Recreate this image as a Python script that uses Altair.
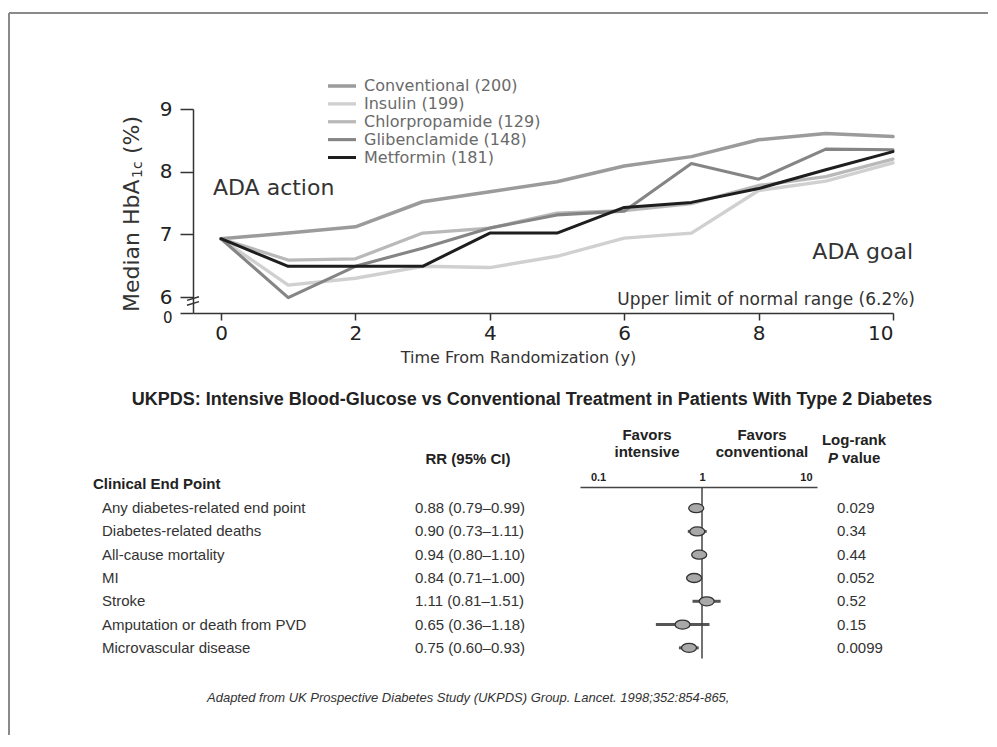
import altair as alt
import pandas as pd

# ---------------- data: HbA1c lines ----------------
years = list(range(11))
series_names = ["Conventional", "Insulin", "Chlorpropamide", "Glibenclamide", "Metformin"]
legend_labels = ["Conventional (200)", "Insulin (199)", "Chlorpropamide (129)",
                 "Glibenclamide (148)", "Metformin (181)"]
conventional = [6.93, 7.02, 7.12, 7.52, 7.68, 7.84, 8.09, 8.24, 8.51, 8.61, 8.56]
insulin = [6.93, 6.19, 6.30, 6.49, 6.47, 6.65, 6.94, 7.02, 7.70, 7.85, 8.14]
chlorpropamide = [6.93, 6.59, 6.61, 7.02, 7.10, 7.34, 7.38, 7.49, 7.78, 7.92, 8.20]
glibenclamide = [6.93, 5.99, 6.49, 6.78, 7.10, 7.31, 7.37, 8.13, 7.88, 8.36, 8.35]
metformin = [6.93, 6.49, 6.49, 6.49, 7.02, 7.02, 7.43, 7.51, 7.73, 8.03, 8.32]
series_values = [conventional, insulin, chlorpropamide, glibenclamide, metformin]
x_ticks = [0, 2, 4, 6, 8, 10]
y_ticks = [6, 7, 8, 9]

# ---------------- data: forest plot ----------------
endpoints = ["Any diabetes-related end point", "Diabetes-related deaths", "All-cause mortality",
             "MI", "Stroke", "Amputation or death from PVD", "Microvascular disease"]
rr = [0.88, 0.90, 0.94, 0.84, 1.11, 0.65, 0.75]
ci_low = [0.79, 0.73, 0.80, 0.71, 0.81, 0.36, 0.60]
ci_high = [0.99, 1.11, 1.10, 1.00, 1.51, 1.18, 0.93]
rr_labels = ["0.88 (0.79\u20130.99)", "0.90 (0.73\u20131.11)", "0.94 (0.80\u20131.10)",
             "0.84 (0.71\u20131.00)", "1.11 (0.81\u20131.51)", "0.65 (0.36\u20131.18)",
             "0.75 (0.60\u20130.93)"]
p_labels = ["0.029", "0.34", "0.44", "0.052", "0.52", "0.15", "0.0099"]
forest_ticks = [0.1, 1, 10]

# ---------------- styles ----------------
line_colors = ["#9b9b9b", "#d0d0d0", "#b9b9b9", "#858585", "#1e1e1e"]
line_widths = [3.5, 3, 3, 3, 3.5]
SANS = "DejaVu Sans"
ARIAL = "Liberation Sans"
TXT = "#333333"

rows = []
for name, vals in zip(series_names, series_values):
    for yr, v in zip(years, vals):
        rows.append({"series": name, "year": yr, "hba1c": v})
df_lines = pd.DataFrame(rows)
df_legend = pd.DataFrame({"series": series_names, "label": legend_labels})

one = alt.Data(values=[{}])

color_scale = alt.Scale(domain=series_names, range=line_colors)
width_scale = alt.Scale(domain=series_names, range=line_widths)

W1, H1 = 700, 204
X0, X1 = -0.417, 10
Y0, Y1 = 5.745, 9

lines = alt.Chart(df_lines).mark_line(strokeJoin="round", strokeCap="round").encode(
    x=alt.X("year:Q", scale=alt.Scale(domain=[X0, X1], nice=False, zero=False),
            axis=alt.Axis(values=x_ticks, title="Time From Randomization (y)",
                          tickSize=7, tickWidth=1.5, tickColor="#333", domainColor="#333",
                          domainWidth=1.5, labelFontSize=20, labelFont=SANS, labelColor="#222",
                          labelPadding=3, titleFont=SANS, titleFontSize=16,
                          titleFontWeight="normal", titleColor=TXT, titlePadding=6,
                          titleX=325, grid=False)),
    y=alt.Y("hba1c:Q", scale=alt.Scale(domain=[Y0, Y1], nice=False, zero=False),
            axis=alt.Axis(values=[Y0] + y_ticks, labelOverlap=False,
                          labelExpr="datum.value < 6 ? '0' : format(datum.value, 'd')",
                          labelFontSize={"condition": {"test": "datum.value < 6", "value": 15},
                                         "value": 20},
                          labelOffset={"condition": {"test": "datum.value < 6", "value": 4.5},
                                       "value": 0},
                          title=None, tickSize=13, tickWidth=1.5, tickColor="#333",
                          domainColor="#333", domainWidth=1.5,
                          labelFont=SANS, labelColor="#222", labelPadding=8, grid=False)),
    color=alt.Color("series:N", scale=color_scale, legend=None),
    strokeWidth=alt.StrokeWidth("series:N", scale=width_scale, legend=None),
    order=alt.Order("year:Q"),
)

leg_y = alt.Y("label:N", scale=alt.Scale(type="point", domain=legend_labels,
                                         range=[-23, 48.5], padding=0), axis=None)
legend_rules = alt.Chart(df_legend).mark_rule().encode(
    x=alt.value(135), x2=alt.value(163), y=leg_y,
    color=alt.Color("series:N", scale=color_scale, legend=None),
    strokeWidth=alt.StrokeWidth("series:N", scale=width_scale, legend=None),
)
legend_text = alt.Chart(df_legend).mark_text(
    align="left", baseline="middle", font=SANS, fontSize=16, color="#6a6a6a"
).encode(x=alt.value(171), y=leg_y, text="label:N")

frame_top = alt.Chart(one).mark_rule(color="#8a8a8a", strokeWidth=2).encode(
    x=alt.value(-184), x2=alt.value(795), y=alt.value(-96))
frame_left = alt.Chart(one).mark_rule(color="#8a8a8a", strokeWidth=2).encode(
    x=alt.value(-184), y=alt.value(-96), y2=alt.value(626))


def txt(s, x, y, **kw):
    opts = dict(align="left", baseline="middle", font=SANS, fontSize=22, color=TXT)
    opts.update(kw)
    return alt.Chart(one).mark_text(text=s, **opts).encode(x=alt.value(x), y=alt.value(y))


ann = [
    txt("ADA action", 20, 79),
    txt("ADA goal", 720, 143, align="right"),
    txt("Upper limit of normal range (6.2%)", 722, 191, align="right", fontSize=17),
    txt("Median HbA", -61, 203, angle=270),
    txt("1c", -55, 69, angle=270, fontSize=14),
    txt("(%)", -61, 45, angle=270),
]
brk = alt.Chart(one).mark_point(
    shape="M -1 -0.1 L 1 -0.7 M -1 0.7 L 1 0.1", filled=False, size=144,
    stroke="#333", strokeWidth=1.5, opacity=1
).encode(x=alt.value(0), y=alt.value(192))

top = alt.layer(frame_top, frame_left, lines, legend_rules, legend_text, brk, *ann).resolve_scale(
    y="independent").properties(width=W1, height=H1)

# ---------------- forest section ----------------
df_forest = pd.DataFrame({"endpoint": endpoints, "rr": rr, "lo": ci_low, "hi": ci_high,
                          "rr_label": rr_labels, "p": p_labels})
W2, H2 = 720, 163
fy = alt.Y("endpoint:N", scale=alt.Scale(type="point", domain=endpoints, padding=0.5), axis=None)
fscale = alt.Scale(type="log", domain=[0.0671, 12.76], range=[387, 624], nice=False)

ci = alt.Chart(df_forest).mark_rule(color="#555", strokeWidth=3).encode(
    x=alt.X("lo:Q", scale=fscale,
            axis=alt.Axis(orient="top", values=forest_ticks, format="~g", ticks=False, grid=False,
                          domainColor="#444", domainWidth=1.5, labelFontWeight="bold",
                          labelFontSize=11, labelFont=ARIAL, labelColor="#222", labelPadding=5,
                          offset=9.5, title=None)),
    x2="hi:Q", y=fy)
ref = alt.Chart(one).mark_rule(color="#444", strokeWidth=1.5).encode(
    x=alt.datum(1), y=alt.value(-9.5), y2=alt.value(162))
pts = alt.Chart(df_forest).mark_point(
    shape="M -1 0 A 1 0.6 0 1 1 1 0 A 1 0.6 0 1 1 -1 0 Z", filled=True, size=225,
    fill="#a8a8a8", stroke="#333", strokeWidth=1.3, opacity=1
).encode(x=alt.X("rr:Q", scale=fscale), y=fy)

base_t = dict(align="left", baseline="middle", font=ARIAL, fontSize=15, color=TXT)
lab_t = alt.Chart(df_forest).mark_text(**base_t).encode(x=alt.value(-91), y=fy, text="endpoint:N")
rr_t = alt.Chart(df_forest).mark_text(**base_t).encode(x=alt.value(222), y=fy, text="rr_label:N")
p_t = alt.Chart(df_forest).mark_text(**base_t).encode(x=alt.value(644), y=fy, text="p:N")


def ftxt(s, x, y, **kw):
    opts = dict(align="center", baseline="middle", font=ARIAL, fontSize=15,
                fontWeight="bold", color="#222")
    opts.update(kw)
    return alt.Chart(one).mark_text(text=s, **opts).encode(x=alt.value(x), y=alt.value(y))


heads = [
    ftxt("UKPDS: Intensive Blood-Glucose vs Conventional Treatment in Patients With Type 2 Diabetes",
         339, -96.5, fontSize=18),
    ftxt("RR (95% CI)", 275, -37.5),
    ftxt("Clinical End Point", -100, -12.5, align="left"),
    ftxt("Favors", 454, -61.5),
    ftxt("intensive", 454, -44.5),
    ftxt("Favors", 569, -61.5),
    ftxt("conventional", 569, -44.5),
    ftxt("Log-rank", 661, -56.5),
    ftxt("P", 635, -38.5, align="left", fontStyle="italic"),
    ftxt("value", 649, -38.5, align="left"),
    ftxt("Adapted from UK Prospective Diabetes Study (UKPDS) Group. Lancet. 1998;352:854-865,",
         14, 201.5, align="left", fontWeight="normal", fontStyle="italic", fontSize=13, color=TXT),
]

forest = alt.layer(ci, ref, pts, lab_t, rr_t, p_t, *heads).properties(width=W2, height=H2)

chart = alt.vconcat(top, forest, spacing=183.5, bounds="flush").properties(
    padding={"left": 0, "top": 4, "right": 0, "bottom": 0},
    background="white",
).configure_view(strokeWidth=0, stroke=None)

chart.save("out.html", embed_options={"renderer": "svg", "actions": False})
